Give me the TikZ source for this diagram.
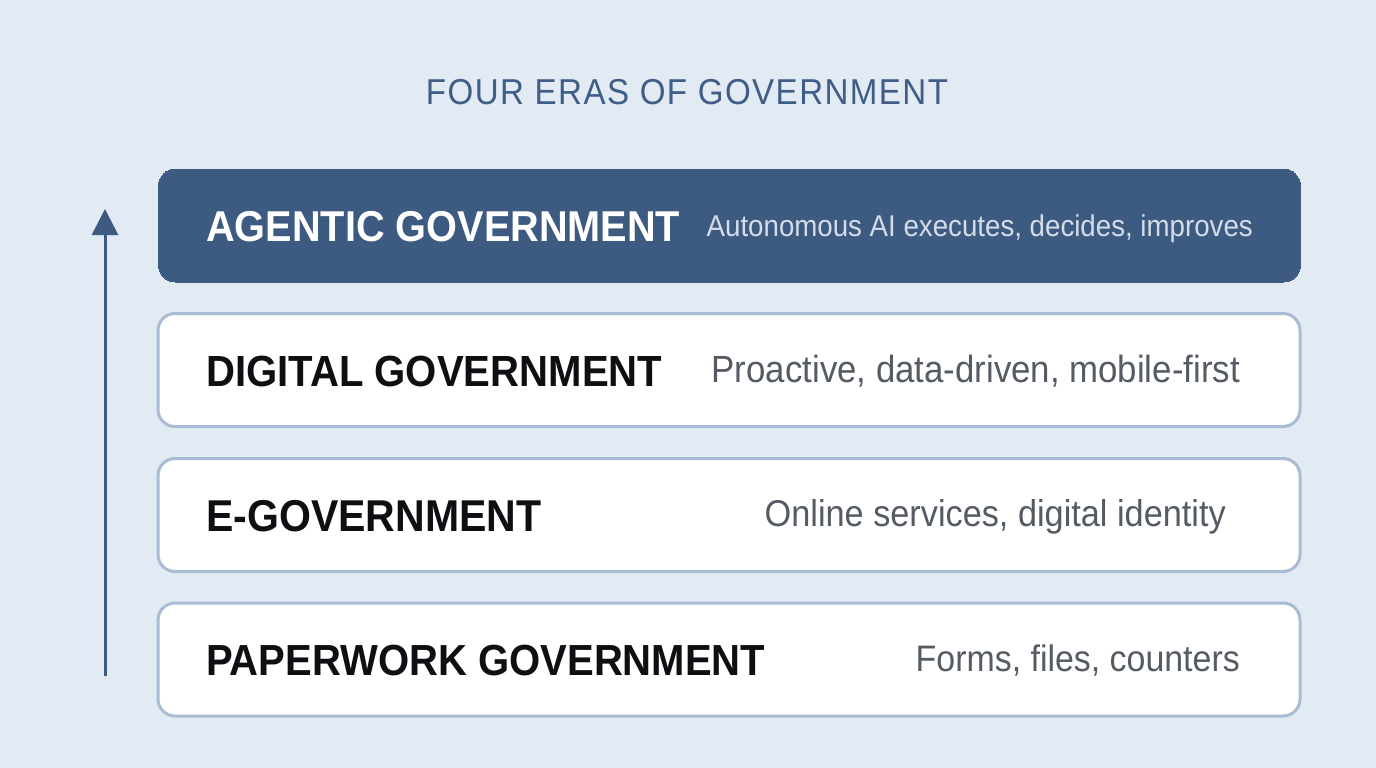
\documentclass[tikz,border=0pt]{standalone}
\usepackage{fontspec}
\setmainfont{Liberation Sans}[FakeStretch=0.92]
\usetikzlibrary{arrows.meta}
\definecolor{bg}{HTML}{E2EAF3}
\definecolor{navy}{HTML}{3D5A80}
\definecolor{titleblue}{HTML}{3F5D86}
\definecolor{edge}{HTML}{A9BCD3}
\definecolor{lightdesc}{HTML}{D3DCE8}
\definecolor{graydesc}{HTML}{555B63}
\definecolor{ink}{HTML}{0D0F12}
\tikzset{
  erabox/.style={rounded corners=17pt, draw=edge, line width=3pt, fill=white,
    minimum width=1142pt, minimum height=113pt, inner sep=0pt},
  topbox/.style={erabox, draw=navy, fill=navy, line width=0pt},
  eralabel/.style={anchor=base west, inner sep=0pt},
  eradesc/.style={anchor=base east, inner sep=0pt},
}
\begin{document}
\begin{tikzpicture}[x=1pt,y=-1pt]
\useasboundingbox (0,0) rectangle (1376,768);
\fill[bg] (0,0) rectangle (1376,768);
% title
\node[anchor=base, inner sep=0pt, text=titleblue] (title) at (687,104)
  {\resizebox{522pt}{!}{\addfontfeatures{LetterSpace=4}\fontsize{32}{36}\selectfont FOUR ERAS OF GOVERNMENT}};
% boxes
\node[topbox] (b1) at (729.5,225.5) {};
\node[erabox] (b2) at (729,370) {};
\node[erabox] (b3) at (729,515) {};
\node[erabox] (b4) at (729,659.5) {};
% labels
\node[eralabel, text=white] (t1) at (206,241) {\resizebox{474pt}{!}{\bfseries AGENTIC GOVERNMENT}};
\node[eralabel, text=ink] (t2) at (206,386) {\resizebox{456pt}{!}{\bfseries DIGITAL GOVERNMENT}};
\node[eralabel, text=ink] (t3) at (206,531) {\resizebox{335pt}{!}{\bfseries E-GOVERNMENT}};
\node[eralabel, text=ink] (t4) at (206,675) {\resizebox{559pt}{!}{\bfseries PAPERWORK GOVERNMENT}};
% descriptions
\node[eradesc, text=lightdesc] (d1) at (1253,236) {\resizebox{546pt}{!}{Autonomous AI executes, decides, improves}};
\node[eradesc, text=graydesc] (d2) at (1240,382) {\resizebox{528pt}{!}{Proactive, data-driven, mobile-first}};
\node[eradesc, text=graydesc] (d3) at (1226,526) {\resizebox{461pt}{!}{Online services, digital identity}};
\node[eradesc, text=graydesc] (d4) at (1240,671) {\resizebox{324pt}{!}{Forms, files, counters}};
% arrow
\coordinate (a0) at (105,676);
\coordinate (a1) at (105,209);
\draw[navy, line width=3pt, -{Triangle[width=26pt,length=26pt]}] (a0) -- (a1);
\end{tikzpicture}
\end{document}
